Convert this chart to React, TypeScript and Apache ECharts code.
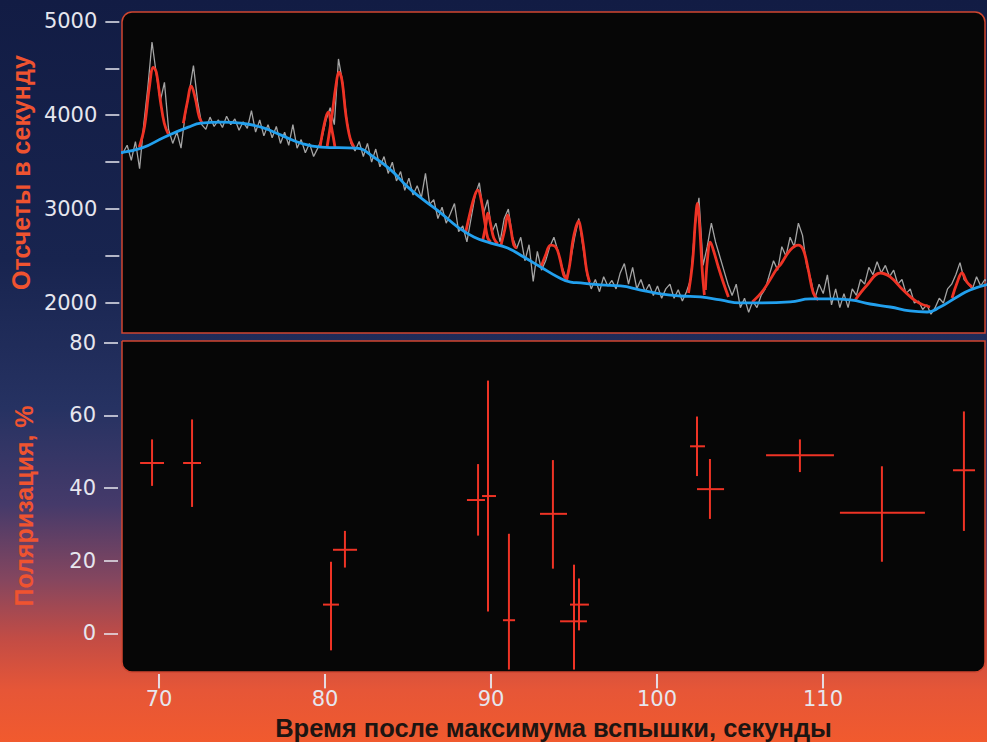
import React, { useEffect, useRef } from 'react';
import * as echarts from 'echarts';

// ---- axes ----
const timeMin = 67.77;
const timeMax = 119.76;
const timeTicks = [70, 80, 90, 100, 110];
const countMin = 1680;
const countMax = 5100;
const countTicks = [2000, 2500, 3000, 3500, 4000, 4500, 5000];
const countLabels = [2000, 3000, 4000, 5000];
const polMin = -15.07;
const polMax = 80.5;
const polTicks = [0, 20, 40, 60, 80];

// ---- raw counts (gray), sampled every 0.25 s from 67.5 s ----
const grayStart = 67.5;
const grayStep = 0.25;
const grayCounts = [
  3560, 3600,
  3680, 3520, 3720, 3430, // 68
  3900, 4300, 4780, 4450, // 69
  4150, 4350, 3850, 3700, // 70
  3820, 3650, 4000, 4250, // 71
  4530, 4150, 3900, 3850, // 72
  3980, 3880, 3950, 3870, // 73
  3990, 3900, 3960, 3840, // 74
  3930, 3860, 4050, 3820, // 75
  3950, 3780, 3900, 3760, // 76
  3880, 3700, 3820, 3680, // 77
  3900, 3650, 3740, 3600, // 78
  3700, 3560, 3650, 3750, // 79
  3950, 4080, 3900, 4600, // 80
  4350, 3950, 3700, 3620, // 81
  3720, 3560, 3700, 3500, // 82
  3640, 3450, 3560, 3380, // 83
  3500, 3300, 3400, 3200, // 84
  3330, 3150, 3250, 3120, // 85
  3380, 3050, 3100, 2900, // 86
  3020, 2850, 2950, 3060, // 87
  2760, 2820, 2650, 2900, // 88
  3150, 3280, 2950, 3100, // 89
  2750, 2850, 2650, 2900, // 90
  3000, 2700, 2580, 2700, // 91
  2450, 2620, 2230, 2550, // 92
  2350, 2450, 2600, 2700, // 93
  2550, 2380, 2250, 2450, // 94
  2700, 2900, 2600, 2300, // 95
  2150, 2250, 2120, 2280, // 96
  2180, 2240, 2150, 2320, // 97
  2420, 2200, 2380, 2150, // 98
  2250, 2120, 2200, 2080, // 99
  2180, 2050, 2150, 2200, // 100
  2050, 2140, 2020, 2120, // 101
  2250, 2800, 3120, 2400, // 102
  2600, 2850, 2650, 2500, // 103
  2350, 2200, 2080, 2200, // 104
  1950, 2050, 1900, 2020, // 105
  1950, 2080, 2150, 2300, // 106
  2450, 2350, 2600, 2500, // 107
  2700, 2600, 2850, 2720, // 108
  2400, 2250, 2050, 2200, // 109
  2100, 2300, 1980, 2150, // 110
  1950, 2100, 1950, 2150, // 111
  2080, 2250, 2200, 2380, // 112
  2300, 2440, 2320, 2400, // 113
  2280, 2350, 2200, 2250, // 114
  2100, 2150, 2000, 2020, // 115
  1930, 1980, 1880, 1950, // 116
  2050, 2000, 2150, 2200, // 117
  2300, 2430, 2250, 2200, // 118
  2150, 2280, 2180, 2250, // 119
  2200,
];

// ---- smooth background (blue) ----
const baseT = [67.5, 68.86, 70.24, 71.69, 72.47, 73.67, 74.88, 76.08, 77.29, 78.49, 79.7, 81.81, 82.89, 83.92, 84.94, 85.9, 86.93, 87.95, 88.92, 89.94, 90.96, 91.93, 92.95, 93.98, 94.76, 95.36, 96.57, 97.77, 98.98, 100.18, 101.39, 102.59, 103.8, 105.0, 106.2, 108.01, 109.22, 110.42, 111.63, 112.83, 114.04, 115.24, 116.27, 117.05, 118.07, 118.86, 120.0];
const baseC = [3600, 3649, 3766, 3873, 3915, 3926, 3915, 3873, 3788, 3702, 3660, 3649, 3553, 3415, 3234, 3096, 2958, 2809, 2702, 2638, 2585, 2489, 2383, 2277, 2223, 2213, 2192, 2181, 2138, 2096, 2074, 2064, 2032, 2000, 2000, 2011, 2043, 2043, 2032, 1989, 1957, 1915, 1904, 1957, 2064, 2138, 2200];

// ---- fitted flare components (red), [time, counts] ----
const peaks: number[][][] = [
  [[68.73, 3660], [69.04, 3873], [69.34, 4298], [69.58, 4511], [69.76, 4458], [70.0, 4160], [70.24, 3915], [70.48, 3800]],
  [[71.39, 3915], [71.63, 4139], [71.87, 4309], [72.11, 4181], [72.35, 3979], [72.53, 3915]],
  [[79.64, 3660], [79.88, 3894], [80.12, 4032], [80.36, 3841], [80.54, 3660]],
  [[80.06, 3660], [80.36, 4000], [80.6, 4320], [80.78, 4458], [80.96, 4373], [81.2, 4000], [81.45, 3756], [81.69, 3660]],
  [[88.43, 2755], [88.73, 2990], [88.98, 3149], [89.16, 3202], [89.34, 3117], [89.58, 2862], [89.76, 2692], [89.94, 2649]],
  [[89.46, 2670], [89.64, 2830], [89.76, 2958], [89.94, 2830], [90.12, 2692], [90.36, 2628]],
  [[90.54, 2606], [90.78, 2777], [90.96, 2936], [91.14, 2798], [91.33, 2617], [91.51, 2585]],
  [[92.95, 2372], [93.25, 2511], [93.55, 2617], [93.86, 2596], [94.1, 2479], [94.34, 2298], [94.52, 2255]],
  [[94.52, 2245], [94.7, 2404], [94.88, 2649], [95.06, 2798], [95.24, 2872], [95.36, 2798], [95.54, 2596], [95.72, 2351], [95.9, 2223]],
  [[101.87, 2106], [102.11, 2426], [102.29, 2883], [102.41, 3060], [102.53, 2851], [102.71, 2319], [102.83, 2085]],
  [[102.89, 2138], [103.01, 2458], [103.19, 2649], [103.37, 2564], [103.67, 2383], [103.98, 2213], [104.28, 2064]],
  [[105.72, 2011], [106.39, 2138], [107.23, 2372], [107.41, 2404], [108.01, 2564], [108.49, 2617], [108.8, 2564], [109.1, 2351], [109.4, 2106], [109.7, 2032]],
  [[111.93, 2032], [112.65, 2192], [113.43, 2319], [114.04, 2277], [114.82, 2138], [115.66, 2011], [116.45, 1957]],
  [[117.77, 2053], [118.07, 2213], [118.37, 2319], [118.67, 2223], [118.98, 2170]],
];

// ---- polarization with error bars (two bars run off the bottom of the panel, -10) ----
const polT = [69.58, 71.99, 80.36, 81.2, 89.22, 89.82, 91.08, 93.73, 95.0, 95.3, 102.41, 103.19, 108.61, 113.55, 118.49];
const polP = [46.9, 46.9, 7.9, 23.0, 36.7, 37.8, 3.6, 32.9, 3.3, 7.9, 51.5, 39.7, 49.0, 33.2, 44.9];
const polTLo = [68.86, 71.45, 79.88, 80.48, 88.55, 89.46, 90.72, 92.95, 94.16, 94.76, 101.99, 102.41, 106.57, 111.02, 117.83];
const polTHi = [70.3, 72.53, 80.84, 81.93, 89.64, 90.3, 91.45, 94.58, 95.78, 95.9, 102.89, 104.04, 110.66, 116.14, 119.16];
const polPLo = [40.6, 34.8, -4.7, 18.1, 26.9, 6.0, -10, 17.8, -10, 0.8, 43.3, 31.5, 44.4, 19.7, 28.2];
const polPHi = [53.4, 58.9, 19.7, 28.2, 46.6, 69.6, 27.4, 47.7, 18.9, 15.1, 59.7, 48.0, 53.4, 46.0, 61.1];

const RED = '#ee3325';
const TICK = '#e8e8f0';
const labelStyle = { color: '#e6e6ee', fontFamily: 'DejaVu Sans', fontSize: 21, formatter: (v: number) => String(v) };
const titleStyle = { fontFamily: 'Liberation Sans', fontWeight: 'bold' as const, fontSize: 25 };

export default function App() {
  const ref = useRef<HTMLDivElement>(null);
  useEffect(() => {
    if (!ref.current) return;
    const chart = echarts.init(ref.current, null, { renderer: 'svg' });
    const grayData = grayCounts.map((v, i) => [grayStart + i * grayStep, v]);
    const baseData = baseT.map((t, i) => [t, baseC[i]]);
    const polData = polT.map((t, i) => [t, polP[i], polTLo[i], polTHi[i], polPLo[i], polPHi[i]]);

    const option: any = {
      animation: false,
      backgroundColor: {
        type: 'linear', x: 0, y: 0, x2: 0, y2: 1,
        colorStops: [
          { offset: 0, color: '#121c44' },
          { offset: 0.35, color: '#18244f' },
          { offset: 0.55, color: '#263262' },
          { offset: 0.68, color: '#453a6a' },
          { offset: 0.78, color: '#84465f' },
          { offset: 0.86, color: '#c24c45' },
          { offset: 0.93, color: '#e65637' },
          { offset: 1, color: '#f15a2e' },
        ],
      },
      graphic: [
        {
          type: 'rect', z: -1, silent: true,
          shape: { x: 122, y: 12, width: 863, height: 321, r: [10, 10, 0, 0] },
          style: { fill: '#060606', stroke: '#cf4630', lineWidth: 1.5 },
        },
        {
          type: 'rect', z: -1, silent: true,
          shape: { x: 122, y: 341, width: 863, height: 331, r: [0, 0, 10, 10] },
          style: { fill: '#060606', stroke: '#cf4630', lineWidth: 1.5 },
        },
      ],
      grid: [
        { left: 122, right: 2, top: 12, height: 321 },
        { left: 122, right: 2, top: 341, height: 349 },
      ],
      xAxis: [
        { gridIndex: 0, type: 'value', min: timeMin, max: timeMax, show: false, axisLine: { onZero: false } },
        {
          gridIndex: 1, type: 'value', min: timeMin, max: timeMax, position: 'bottom',
          axisLine: { show: false, onZero: false },
          axisTick: { show: true, inside: true, customValues: timeTicks, length: 14, lineStyle: { color: TICK, width: 1.5 } },
          axisLabel: {
            customValues: timeTicks,
            margin: -16,
            color: '#e6e6ee',
            // a thin bar glyph above each number stands for the tick mark
            formatter: (v: number) => '{t||}\n{v|' + String(v) + '}',
            rich: {
              t: { color: TICK, fontFamily: 'DejaVu Sans', fontSize: 14, lineHeight: 15 },
              v: { color: '#e6e6ee', fontFamily: 'DejaVu Sans', fontSize: 21, lineHeight: 24 },
            },
          },
          splitLine: { show: false },
          name: 'Время после максимума вспышки, секунды',
          nameLocation: 'middle', nameGap: 27,
          nameTextStyle: { ...titleStyle, fontSize: 25.5, color: '#1d1512' },
        },
      ],
      yAxis: [
        {
          gridIndex: 0, type: 'value', min: countMin, max: countMax, offset: 4,
          axisLine: { show: false, onZero: false },
          axisTick: { show: true, customValues: countTicks, length: 14, lineStyle: { color: TICK, width: 1.5 } },
          axisLabel: { customValues: countLabels, margin: 22, ...labelStyle },
          splitLine: { show: false },
          name: 'Отсчеты в секунду',
          nameLocation: 'middle', nameGap: 82,
          nameTextStyle: { ...titleStyle, color: '#ef5330' },
        },
        {
          gridIndex: 1, type: 'value', min: polMin, max: polMax, offset: 4,
          axisLine: { show: false, onZero: false },
          axisTick: { show: true, customValues: polTicks, length: 14, lineStyle: { color: TICK, width: 1.5 } },
          axisLabel: { customValues: polTicks, margin: 22, ...labelStyle },
          splitLine: { show: false },
          name: 'Поляризация, %',
          nameLocation: 'middle', nameGap: 82,
          nameTextStyle: { ...titleStyle, color: '#ef5330', padding: [0, 0, 0, 17] },
        },
      ],
      series: [
        {
          type: 'line', xAxisIndex: 0, yAxisIndex: 0, data: grayData,
          showSymbol: false, z: 2,
          lineStyle: { color: '#a4a4a4', width: 1.3 },
        },
        ...peaks.map((pk) => ({
          type: 'line', xAxisIndex: 0, yAxisIndex: 0, data: pk,
          showSymbol: false, smooth: 0.4, z: 3,
          lineStyle: { color: RED, width: 2.8 },
        })),
        {
          type: 'line', xAxisIndex: 0, yAxisIndex: 0, data: baseData,
          showSymbol: false, smooth: 0.5, z: 4,
          lineStyle: { color: '#22a0ee', width: 2.8 },
        },
        {
          type: 'custom', xAxisIndex: 1, yAxisIndex: 1, data: polData, clip: true, z: 3,
          renderItem: (params: any, api: any) => {
            const t = api.value(0), p = api.value(1);
            const a = api.coord([api.value(2), p]);
            const b = api.coord([api.value(3), p]);
            const c = api.coord([t, api.value(4)]);
            const d = api.coord([t, api.value(5)]);
            const style = { stroke: RED, lineWidth: 2 };
            return {
              type: 'group',
              children: [
                { type: 'line', shape: { x1: a[0], y1: a[1], x2: b[0], y2: b[1] }, style },
                { type: 'line', shape: { x1: c[0], y1: c[1], x2: d[0], y2: d[1] }, style },
              ],
            };
          },
        },
      ],
    };
    chart.setOption(option);
    return () => chart.dispose();
  }, []);
  return <div ref={ref} style={{ position: 'absolute', left: 0, top: 0, width: 987, height: 742 }} />;
}
